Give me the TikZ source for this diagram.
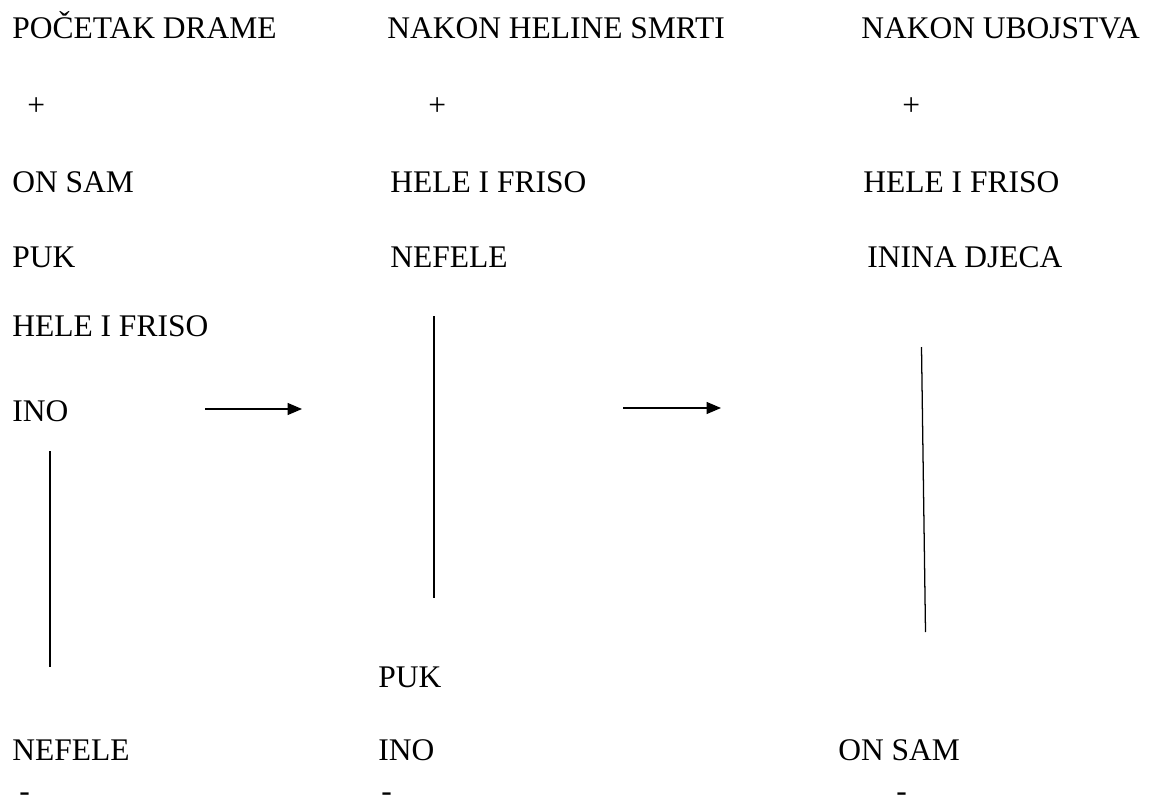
\documentclass[tikz,border=0pt]{standalone}
\usepackage{fontspec}
\setmainfont{Liberation Serif}
\usetikzlibrary{arrows.meta}

\begin{document}
\begin{tikzpicture}[x=0.025cm,y=-0.025cm]
      \useasboundingbox (0,0) rectangle (1152,802);
      \begin{scope}[every node/.style={anchor=base west,inner sep=0pt,font=\fontsize{22.4}{27}\selectfont}]
        \node (poc) at (12,38) {POČETAK DRAME};
        \node (plus1) at (27,115) {+};
        \node (onsam1) at (12,192) {ON SAM};
        \node (puk1) at (12,267) {PUK};
        \node (hele1) at (12,336) {HELE I FRISO};
        \node (ino1) at (12,421) {INO};
        \node (nefele1) at (12,760) {NEFELE};
        \node (minus1) at (19,801) {-};
        \node (smrt) at (387,38) {NAKON HELINE SMRTI};
        \node (plus2) at (428,115) {+};
        \node (hele2) at (390,192) {HELE I FRISO};
        \node (nefele2) at (390,267) {NEFELE};
        \node (puk2) at (378,687) {PUK};
        \node (ino2) at (378,760) {INO};
        \node (minus2) at (381,801) {-};
        \node (uboj) at (861,38) {NAKON UBOJSTVA};
        \node (plus3) at (902,115) {+};
        \node (hele3) at (863,192) {HELE I FRISO};
        \node (djeca) at (867,267) {ININA DJECA};
        \node (onsam3) at (838,760) {ON SAM};
        \node (minus3) at (896,801) {-};
      \end{scope}
      \coordinate (v1a) at (50,451);
      \coordinate (v1b) at (50,667);
      \coordinate (v2a) at (434,316);
      \coordinate (v2b) at (434,598);
      \coordinate (v3a) at (921.5,347);
      \coordinate (v3b) at (925.5,632);
      \coordinate (s1a) at (205,409);
      \coordinate (s1b) at (302,409);
      \coordinate (s2a) at (623,408);
      \coordinate (s2b) at (721,408);
      \begin{scope}[every edge/.style={draw,line width=1.3pt}]
        \path (v1a) edge (v1b);
        \path (v2a) edge (v2b);
        \path (v3a) edge[line width=0.9pt] (v3b);
      \end{scope}
      \begin{scope}[every edge/.style={draw,line width=0.8pt,-{Triangle[length=0.36cm,width=0.3cm]}}]
        \path (s1a) edge (s1b);
        \path (s2a) edge (s2b);
      \end{scope}
    \end{tikzpicture}
\end{document}
